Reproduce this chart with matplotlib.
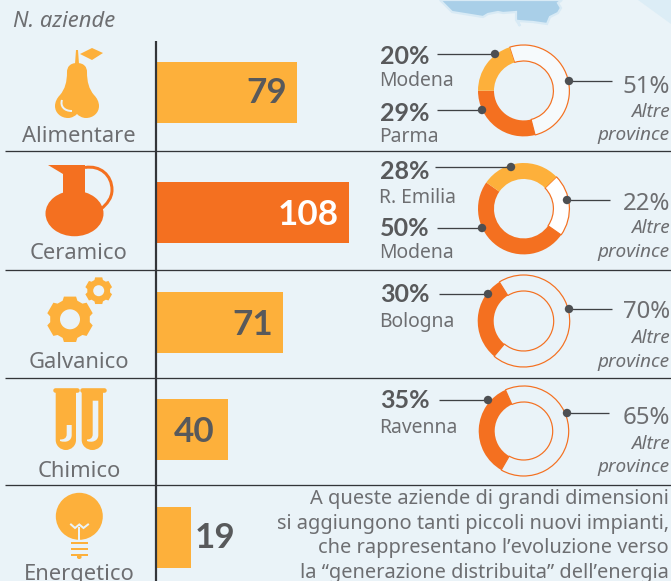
"""
Aziende per settore e province principali
Barre orizzontali + ciambelle, coordinate in pixel dell'immagine
"""

import numpy as np
import matplotlib
matplotlib.use('Agg')
import matplotlib.pyplot as plt
from matplotlib.patches import Circle, Ellipse, PathPatch, Polygon
from matplotlib.path import Path

plt.rcParams['font.family'] = ['Noto Sans', 'DejaVu Sans']

# 1. Dati
settori = ['Alimentare', 'Ceramico', 'Galvanico', 'Chimico', 'Energetico']
n_aziende = [79, 108, 71, 40, 19]
altre = [51, 22, 70, 65]
prov_a = [('Modena', 20), ('R. Emilia', 28), ('Bologna', 30), ('Ravenna', 35)]
prov_b = [('Parma', 29), ('Modena', 50), None, None]
nota = ['A queste aziende di grandi dimensioni',
        'si aggiungono tanti piccoli nuovi impianti,',
        'che rappresentano l\u2019evoluzione verso',
        'la \u201cgenerazione distribuita\u201d dell\u2019energia']

# Configurazione
W, H = 671, 581
SFONDO = '#EAF3F8'
GIALLO = '#FDB03B'
ARANCIO = '#F47020'
SCURO = '#58595B'
GRIGIO = '#6D6E71'
LINEA = '#333539'
GRASSETTO = dict(family='Lato', fontweight='bold')

fig = plt.figure(figsize=(W / 100, H / 100), dpi=100, facecolor=SFONDO)
ax = fig.add_axes([0, 0, 1, 1], zorder=5)
ax.set_xlim(0, W)
ax.set_ylim(H, 0)
ax.axis('off')


def px(v):
    return v * 0.72


def forma(verts, codes=None, **kw):
    if codes is None:
        ax.add_patch(Polygon(verts, closed=True, lw=0, **kw))
    else:
        ax.add_patch(PathPatch(Path(verts, codes), **kw))


def curva(punti, color, lw):
    # punti: inizio + terne di controllo per curve cubiche
    codes = [Path.MOVETO] + [Path.CURVE4] * (len(punti) - 1)
    ax.add_patch(PathPatch(Path(punti, codes), fc='none', ec=color, lw=px(lw), capstyle='butt'))


def ingranaggio(cx, cy, r_est, r_int, r_foro, n=6):
    pts = []
    for i in range(n):
        a = -np.pi / 2 + i * 2 * np.pi / n
        d = np.pi / n
        for da, r in [(-d * 0.72, r_int), (-d * 0.5, r_est), (d * 0.5, r_est), (d * 0.72, r_int)]:
            pts.append((cx + r * np.cos(a + da), cy + r * np.sin(a + da)))
    forma(pts, fc=GIALLO)
    ax.add_patch(Circle((cx, cy), r_foro, fc=SFONDO, lw=0))


# 2. Mappa in alto
forma([(638, 0), (671, 24), (671, 0)], fc='#DCEDF6')
ax.add_patch(Polygon([(440, 0), (452, 12), (483, 17), (488, 14), (498, 12), (503, 13),
                      (516, 12), (516, 20), (520, 26), (518, 21), (533, 22), (547, 24),
                      (550, 17), (558, 13), (561, 8), (558, 3), (562, 0)],
                     closed=True, fc='#A9CFE8', ec='#D8EAF5', lw=1.6))

# 3. Griglia
for y in [150.5, 269.5, 378, 484.5]:
    ax.plot([5, W], [y, y], color=LINEA, lw=px(1.3), solid_capstyle='butt')
ax.plot([155.5, 155.5], [41, H], color=LINEA, lw=px(2.2), solid_capstyle='butt')
ax.text(13, 27, 'N. aziende', style='italic', fontsize=px(22), color=GRIGIO)

# 4. Barre
centri = [92.5, 212.5, 322.5, 429.5, 537.5]
base_etichette = [142, 259, 368, 477, 580]
base_valori = [103, 225, 335, 442, 548]
fine_valori = [287, 339, 273, 215, 235]
colori_barre = [GIALLO, ARANCIO, GIALLO, GIALLO, GIALLO]
colori_valori = [SCURO, 'white', SCURO, SCURO, SCURO]
for i, n in enumerate(n_aziende):
    ax.barh(centri[i], n * 1.775, height=61, left=157, color=colori_barre[i])
    ax.text(fine_valori[i], base_valori[i], str(n), ha='right', fontsize=px(35),
            color=colori_valori[i], **GRASSETTO)
    ax.text(79, base_etichette[i], settori[i], ha='center', fontsize=px(22), color=GRIGIO)

# 5. Ciambelle
centri_c = [(523.7, 90.7), (523.7, 208.7), (523.7, 321), (523.7, 431)]
raggi = [45.7, 45.7, 46, 45]
partenze = [180, 145, 122, 114]
vuoti = ['#F6FAFC', 'white', SFONDO, SFONDO]
for i in range(4):
    cx, cy = centri_c[i]
    r = raggi[i]
    a = fig.add_axes([(cx - r) / W, 1 - (cy + r) / H, 2 * r / W, 2 * r / H], zorder=2)
    if prov_b[i] is None:
        # una sola provincia: parte dall'alto e scende verso sinistra
        valori = [prov_a[i][1], altre[i]]
        colori = [ARANCIO, vuoti[i]]
    else:
        valori = [prov_b[i][1], altre[i], prov_a[i][1]]
        colori = [ARANCIO, vuoti[i], GIALLO]
    spicchi, _ = a.pie(valori, startangle=partenze[i], colors=colori, radius=1, counterclock=True,
                       wedgeprops=dict(width=16 / r, linewidth=0))
    for s, c in zip(spicchi, colori):
        s.set_clip_on(False)
        if c == vuoti[i]:
            s.set_edgecolor(ARANCIO)
            s.set_linewidth(px(1.2))
            s.set_zorder(1)
        else:
            s.set_zorder(2)
    a.set_xlim(-1, 1)
    a.set_ylim(-1, 1)
    a.axis('off')

# 6. Etichette ciambelle e linee guida
base_a = [(64, 86), (179, 203), (302, 327), (408, 433)]
base_b = [(121, 142), (236, 258), None, None]
linee_a = [(54, 437, 495), (167, 435, 511), (294, 439, 488), (400, 439, 488)]
linee_b = [(110, 437, 482), (228, 437, 482), None, None]
linee_dx = [(81, 569, 612), (200, 567, 610), (309, 569, 612), (413, 567, 609)]
base_dx = [(93, 117, 140), (210, 233, 257), (318, 343, 367), (424, 449, 472)]

for i in range(4):
    guide = [linee_a[i], linee_dx[i]]
    if linee_b[i] is not None:
        guide.append(linee_b[i])
    for g in guide:
        ax.plot(g[1:], [g[0], g[0]], color='#3F4144', lw=px(1.3), solid_capstyle='butt')
    punti = [(linee_a[i][2], linee_a[i][0]), (linee_dx[i][1], linee_dx[i][0])]
    if linee_b[i] is not None:
        punti.append((linee_b[i][2], linee_b[i][0]))
    for p in punti:
        ax.add_patch(Circle(p, 4.2, fc='#4D4F52', lw=0, zorder=4))

    nome, val = prov_a[i]
    ax.text(380, base_a[i][0], f'{val}%', fontsize=px(25), color=SCURO, **GRASSETTO)
    ax.text(379, base_a[i][1], nome, fontsize=px(19.3), color=GRIGIO)
    if prov_b[i] is not None:
        nome, val = prov_b[i]
        ax.text(380, base_b[i][0], f'{val}%', fontsize=px(25), color=SCURO, **GRASSETTO)
        ax.text(379, base_b[i][1], nome, fontsize=px(19.3), color=GRIGIO)

    ax.text(670, base_dx[i][0], f'{altre[i]}%', ha='right', fontsize=px(24), color=GRIGIO)
    ax.text(670, base_dx[i][1], 'Altre', ha='right', style='italic', fontsize=px(19), color=GRIGIO)
    ax.text(670, base_dx[i][2], 'province', ha='right', style='italic', fontsize=px(19), color=GRIGIO)

# 7. Nota
for riga, y in zip(nota, [504, 529, 553, 578]):
    ax.text(669, y, riga, ha='right', fontsize=px(20), color=GRIGIO)

# 8. Icone
# pera
M, C = Path.MOVETO, Path.CURVE4
pera = [(77, 63), (84, 63), (87, 67), (87, 72), (87, 82), (89, 89), (94, 95), (97, 98), (99, 102),
        (99, 106), (99, 113), (93, 118), (86, 118), (82, 118), (79, 116), (77, 114), (75, 116),
        (72, 118), (68, 118), (61, 118), (55, 113), (55, 106), (55, 102), (57, 98), (60, 95),
        (65, 89), (67, 82), (67, 72), (67, 67), (70, 63), (77, 63)]
forma(pera, [M] + [C] * 30, fc=GIALLO, lw=0)
forma([(75, 64), (76, 50), (78, 50), (79, 64)], fc=GIALLO)
forma([(80, 54), (92, 48), (103, 53), (92, 60)], fc=GIALLO)
curva([(62, 100), (60, 106), (64, 111), (72, 111)], SFONDO, 2)

# brocca
ax.add_patch(Ellipse((74.5, 213.5), 58, 45.5, fc=ARANCIO, lw=0))
forma([(48, 165), (85, 165), (85, 195), (63, 195), (63, 174)], fc=ARANCIO)
curva([(85, 167.5), (100, 165), (112, 175), (112, 190), (112, 198), (107, 204), (101, 209)], ARANCIO, 3)

# ingranaggi
ingranaggio(70, 319.3, 23.5, 20, 10)
ingranaggio(98.7, 290.7, 13.8, 11.5, 5.5)

# provette
for x0, x1, cap0, cap1 in [(55.7, 76, 54.3, 77.7), (81.7, 103, 80.7, 105)]:
    r = (x1 - x0) / 2
    corpo = [(x0, 390), (x1, 390), (x1, 440), (x1, 446), (x1 - r * 0.5, 450), (x0 + r, 450),
             (x0 + r * 0.5, 450), (x0, 446), (x0, 440), (x0, 390)]
    forma(corpo, [M, Path.LINETO, Path.LINETO, C, C, C, C, C, C, Path.LINETO], fc=GIALLO, lw=0)
    ax.plot([cap0 + 1, cap1 - 1], [390.3, 390.3], color=GIALLO, lw=px(4.6), solid_capstyle='round')
vuoto_sx = [(66.7, 425), (71.7, 425), (71.7, 435), (71.7, 441), (66, 443), (60, 441), (60, 439.5),
            (63, 439.5), (66.7, 439), (66.7, 434), (66.7, 425)]
vuoto_dx = [(92.7, 400.7), (98.3, 400.7), (98.3, 435), (98.3, 441), (92, 443), (87, 441), (87, 439.5),
            (89, 439.5), (92.7, 439), (92.7, 434), (92.7, 400.7)]
codici = [M, Path.LINETO, Path.LINETO, C, C, C, Path.LINETO, C, C, C, Path.LINETO]
forma(vuoto_sx, codici, fc=SFONDO, lw=0)
forma(vuoto_dx, codici, fc=SFONDO, lw=0)

# lampadina
ax.add_patch(Circle((79.3, 516.3), 23.5, fc=GIALLO, lw=0))
ax.plot([71, 75, 79.3, 83.5, 88], [524.5, 528, 524.5, 528, 524.5], color=SFONDO, lw=px(2),
        solid_joinstyle='miter')
ax.plot([79.3, 79.3], [527, 540], color=SFONDO, lw=px(2), solid_capstyle='butt')
for y in [543.3, 549.3, 555.3]:
    ax.plot([71, 87.7], [y, y], color=GIALLO, lw=px(2), solid_capstyle='butt')
forma([(77, 556), (81.5, 556), (81.5, 558), (80, 559), (78.5, 559), (77, 558)], fc=GIALLO)

fig.savefig('out.png', dpi=100, facecolor=SFONDO)
